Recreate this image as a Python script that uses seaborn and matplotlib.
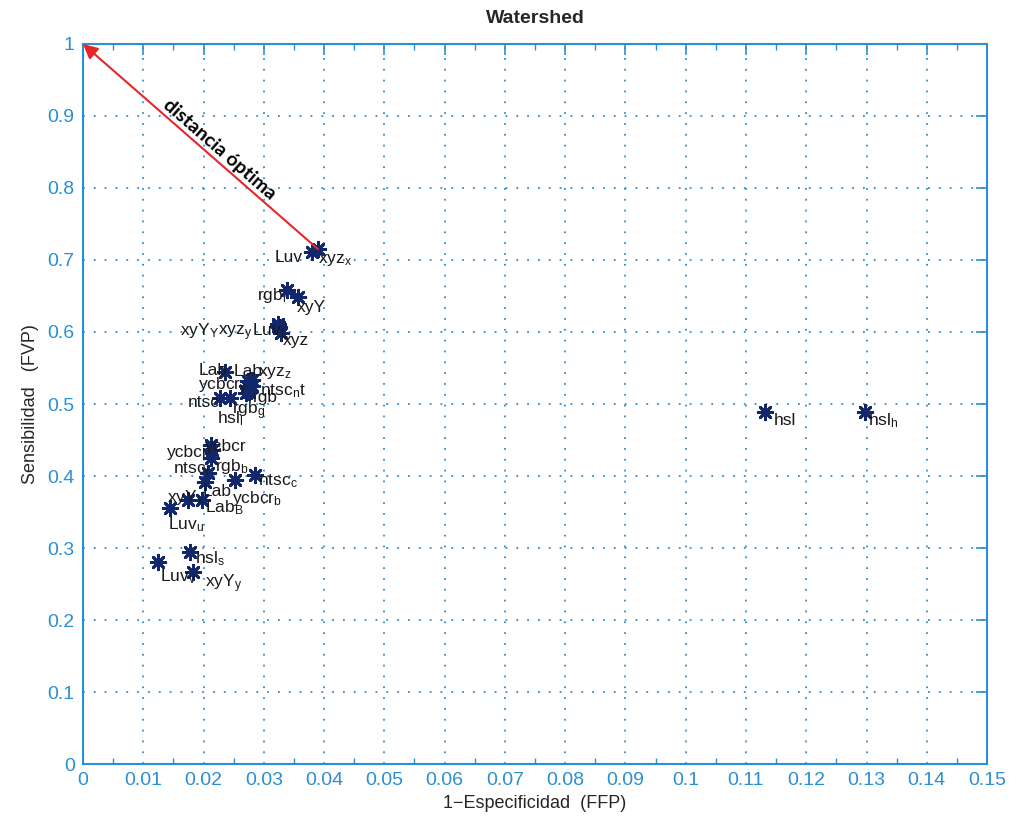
import numpy as np
import matplotlib
matplotlib.use("Agg")
import matplotlib.pyplot as plt
import matplotlib.transforms as mtransforms
import seaborn as sns

# Data: (1-Especificidad, Sensibilidad) per colour channel
fpr = [0.0380, 0.0390, 0.0338, 0.0357, 0.0324, 0.0325, 0.0324, 0.0329,
       0.0236, 0.0274, 0.0280, 0.0272, 0.0280, 0.0275, 0.0270, 0.0227, 0.0244,
       0.0212, 0.0214, 0.0212, 0.0207, 0.0202, 0.0252, 0.0285,
       0.0174, 0.0197, 0.0144, 0.0178, 0.0124, 0.0183,
       0.1132, 0.1298]
tpr = [0.711, 0.715, 0.658, 0.649, 0.611, 0.607, 0.608, 0.599,
       0.544, 0.532, 0.533, 0.525, 0.525, 0.517, 0.515, 0.508, 0.508,
       0.443, 0.436, 0.425, 0.404, 0.392, 0.394, 0.401,
       0.367, 0.367, 0.356, 0.294, 0.281, 0.267,
       0.489, 0.489]
labels = ["Luv", "xyz$_x$", "rgb$_r$", "xyY", "xyY$_Y$", "xyz$_y$", "Luv$_L$", "xyz",
          "Lab", "Lab", "xyz$_z$", "ycbcr$_y$", "ntsc$_n$t", "rgb", "rgb$_g$", "ntsc", "hsl$_l$",
          "ycbcr", "ycbcr", "ntsc$_i$", "rgb$_b$", "Lab", "ycbcr$_b$", "ntsc$_c$",
          "xyY$_x$", "Lab$_B$", "Luv$_u$", "hsl$_s$", "Luv$_v$", "xyY$_y$",
          "hsl", "hsl$_h$"]
# label offsets in pixels (dx right, dy down) from each point
label_dx = [-37, 0, -30, -1, -98, -61, -26, 2,
            -27, -14, 6, -49, 8, 4, -14, -32, -13,
            -44, -7, -38, 7, -2, -3, 3,
            -21, 3, -2, 5, 2, 12,
            8, 3]
label_dy = [10, 14, 10, 15, 11, 8, 9, 12,
            3, -5, -4, 4, 9, 10, 21, 9, 25,
            12, 1, 15, -2, 14, 23, 10,
            2, 13, 22, 11, 20, 16,
            13, 13]

xticks = [0, 0.01, 0.02, 0.03, 0.04, 0.05, 0.06, 0.07, 0.08, 0.09,
          0.1, 0.11, 0.12, 0.13, 0.14, 0.15]
yticks = [0, 0.1, 0.2, 0.3, 0.4, 0.5, 0.6, 0.7, 0.8, 0.9, 1]

blue = '#2b8fd3'
navy = '#12276b'

sns.set_style("white")
plt.rcParams['font.family'] = ['Liberation Sans', 'DejaVu Sans']
plt.rcParams['mathtext.fontset'] = 'custom'
plt.rcParams['mathtext.rm'] = 'Liberation Sans'
plt.rcParams['mathtext.it'] = 'Liberation Sans'

fig = plt.figure(figsize=(10.18, 8.25), dpi=100)
ax = fig.add_axes([0.0815, 0.0739, 0.8881, 0.8728])

sns.scatterplot(x=fpr, y=tpr, ax=ax, marker=(8, 2, 0), s=110, color=navy,
                linewidth=2.0, zorder=3, legend=False)

for xv, yv, lab, dx, dy in zip(fpr, tpr, labels, label_dx, label_dy):
    tr = mtransforms.offset_copy(ax.transData, fig=fig, x=dx, y=-dy, units='dots')
    ax.text(xv, yv, lab, transform=tr, ha='left', va='baseline', fontsize=12.5,
            color='#1a1a1a', zorder=4)

# arrow to the ideal point
ax.annotate("", xy=(0, 1), xytext=(fpr[1], tpr[1]),
            arrowprops=dict(arrowstyle='-|>', color='#e8262a', lw=1.5,
                            mutation_scale=22, shrinkA=0, shrinkB=0), zorder=5)
ax.text(0.0227, 0.853, "distancia óptima", rotation=-41, ha='center', va='center',
        fontsize=14, fontweight='bold', color='black',
        family=['Lato', 'DejaVu Sans'])

ax.set_xlim(0, 0.15)
ax.set_ylim(0, 1)
ax.set_xticks(xticks)
ax.set_xticklabels([f"{t:g}" for t in xticks])
ax.set_yticks(yticks)
ax.set_yticklabels([f"{t:g}" for t in yticks])
ax.set_xticks(np.arange(0.005, 0.15, 0.01), minor=True)

ax.grid(True, which='major', color=blue, linestyle=(0, (1, 5)), linewidth=1.3)
ax.tick_params(which='major', direction='in', length=8, width=1.2, color=blue,
               labelcolor=blue, labelsize=14, top=True, right=True, pad=6)
ax.tick_params(which='minor', direction='in', length=4, width=1.0, color=blue,
               top=True, bottom=True)
for sp in ax.spines.values():
    sp.set_color(blue)
    sp.set_linewidth(1.5)

ax.set_title("Watershed", fontsize=14, fontweight='bold', pad=15)
ax.set_xlabel("1\u2212Especificidad  (FFP)", fontsize=13, labelpad=4)
ax.set_ylabel("Sensibilidad   (FVP)", fontsize=13, labelpad=6)

fig.savefig("out.png", dpi=100)
